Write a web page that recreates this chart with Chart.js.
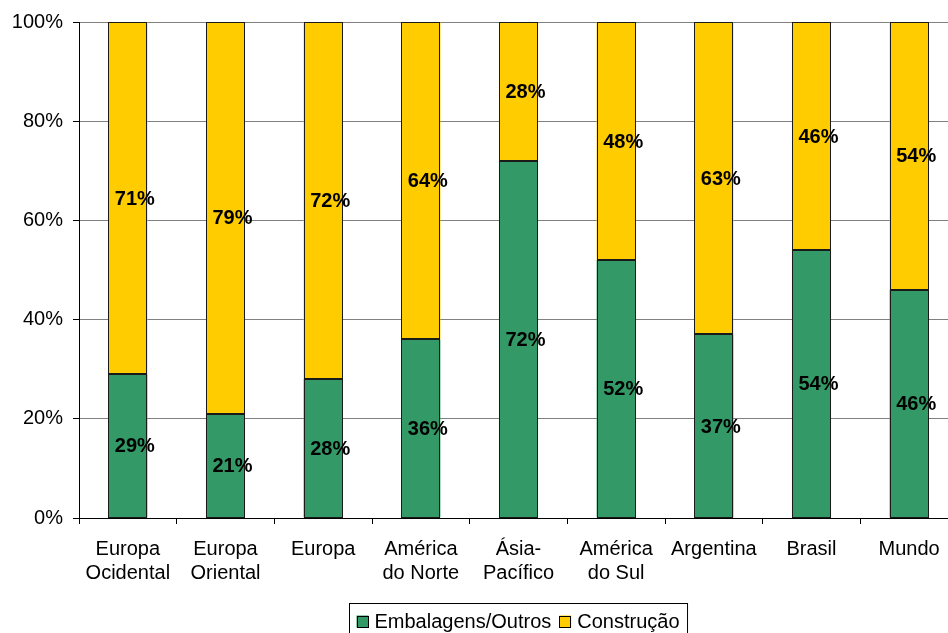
<!DOCTYPE html>
<html>
<head>
<meta charset="utf-8">
<script src="https://cdn.jsdelivr.net/npm/chart.js@4"></script>
<style>
  html, body { margin: 0; padding: 0; background: #fff; overflow: hidden; }
  #wrap { width: 958px; height: 633px; position: relative; }
</style>
</head>
<body>
<div id="wrap"><canvas id="chart"></canvas></div>
<script>
// categorias e valores (%)
const regioes = [
    ['Europa', 'Ocidental'], ['Europa', 'Oriental'], 'Europa', ['América', 'do Norte'],
    ['Ásia-', 'Pacífico'], ['América', 'do Sul'], 'Argentina', 'Brasil', 'Mundo'
];
const embalagens = [29, 21, 28, 36, 72, 52, 37, 54, 46];
const construcao = [71, 79, 72, 64, 28, 48, 63, 46, 54];
const yTicks = [0, 20, 40, 60, 80, 100];

const FONT = 'Liberation Sans, Arial, sans-serif';

// contorno nítido das barras + rótulos de dados
const labelsPlugin = {
    id: 'barLabels',
    afterDatasetsDraw(chart) {
        const ctx = chart.ctx;
        ctx.save();
        ctx.strokeStyle = '#1a1a1a';
        ctx.lineWidth = 1;
        chart.data.datasets.forEach((ds, i) => {
            chart.getDatasetMeta(i).data.forEach(bar => {
                const l = Math.round(bar.x - bar.width / 2) + 0.5;
                const r = Math.round(bar.x + bar.width / 2) - 0.5;
                const t = Math.round(Math.min(bar.y, bar.base)) + 0.5;
                const b = Math.round(Math.max(bar.y, bar.base)) - 0.5;
                ctx.strokeRect(l, t, r - l, b - t);
            });
        });
        ctx.font = 'bold 20px ' + FONT;
        ctx.fillStyle = '#000';
        ctx.textAlign = 'center';
        ctx.textBaseline = 'middle';
        chart.data.datasets.forEach((ds, i) => {
            const meta = chart.getDatasetMeta(i);
            meta.data.forEach((bar, j) => {
                const mid = (bar.y + bar.base) / 2;
                ctx.fillText(ds.data[j] + '%', bar.x + 7, mid + 1);
            });
        });
        ctx.restore();
    }
};

// legenda com moldura, estilo Excel
const legendPlugin = {
    id: 'boxLegend',
    afterDraw(chart) {
        const ctx = chart.ctx;
        const area = chart.chartArea;
        ctx.save();
        ctx.font = '20px ' + FONT;
        const box = 12, gap = 6, itemGap = 8, padX = 7;
        const items = chart.data.datasets.map(ds => ({
            text: ds.label, color: ds.backgroundColor, w: ctx.measureText(ds.label).width
        }));
        let total = padX * 2 + 1;
        items.forEach((it, i) => { total += box + gap + it.w + (i ? itemGap : 0); });
        const left = Math.round((area.left + area.right - total) / 2) + 0.5;
        const top = 603.5, h = 34;
        ctx.strokeStyle = '#000';
        ctx.lineWidth = 1;
        ctx.strokeRect(left, top, total, h);
        let x = left + padX;
        const cy = top + 18;
        ctx.textBaseline = 'middle';
        items.forEach((it, i) => {
            if (i) x += itemGap;
            ctx.fillStyle = it.color;
            ctx.fillRect(x, cy - box / 2, box, box);
            ctx.strokeStyle = '#000';
            ctx.strokeRect(Math.round(x) + 0.5, Math.round(cy - box / 2) + 0.5, box - 1, box - 1);
            x += box + gap;
            ctx.fillStyle = '#000';
            ctx.fillText(it.text, x, cy + 1);
            x += it.w;
        });
        ctx.restore();
    }
};

new Chart(document.getElementById('chart'), {
    type: 'bar',
    data: {
        labels: regioes,
        datasets: [
            {
                label: 'Embalagens/Outros',
                data: embalagens,
                backgroundColor: '#339966',
                borderWidth: 0,
                categoryPercentage: 1,
                barPercentage: 0.4
            },
            {
                label: 'Construção',
                data: construcao,
                backgroundColor: '#FFCC00',
                borderWidth: 0,
                categoryPercentage: 1,
                barPercentage: 0.4
            }
        ]
    },
    options: {
        responsive: true,
        maintainAspectRatio: false,
        animation: false,
        layout: { padding: { top: 22, right: 0, bottom: 0, left: 0 } },
        plugins: {
            legend: { display: false },
            tooltip: { enabled: false }
        },
        scales: {
            x: {
                stacked: true,
                afterFit: s => { s.height = 115; },
                grid: { drawOnChartArea: false, drawTicks: true, tickLength: 6, color: '#000', offset: true },
                border: { display: true, color: '#000', width: 1 },
                ticks: {
                    color: '#000',
                    font: { family: FONT, size: 20, lineHeight: 1.2 },
                    padding: 13,
                    maxRotation: 0,
                    autoSkip: false
                }
            },
            y: {
                stacked: true,
                min: 0,
                max: 100,
                afterFit: s => { s.width = 79; },
                afterBuildTicks: s => { s.ticks = yTicks.map(v => ({ value: v })); },
                grid: { color: '#808080', tickLength: 6, tickColor: '#000' },
                border: { display: true, color: '#000', width: 1 },
                ticks: {
                    color: '#000',
                    font: { family: FONT, size: 20 },
                    padding: 10,
                    callback: v => v + '%'
                }
            }
        }
    },
    plugins: [labelsPlugin, legendPlugin]
});
</script>
</body>
</html>
